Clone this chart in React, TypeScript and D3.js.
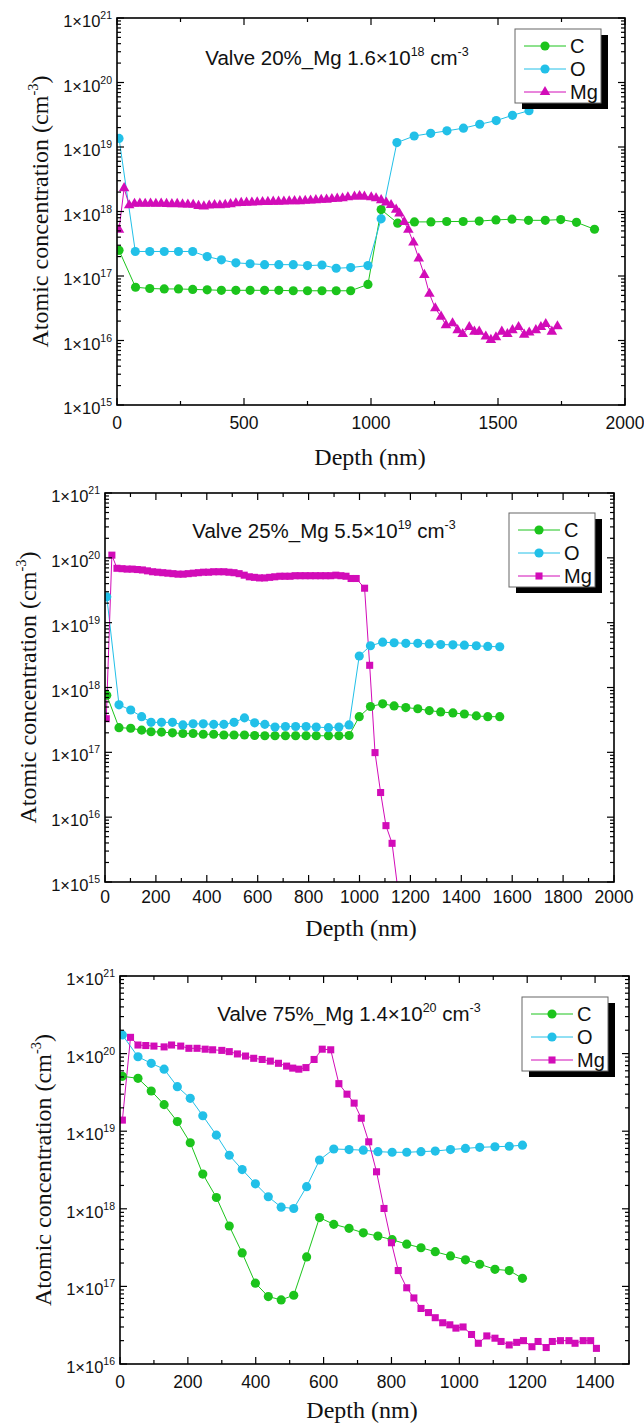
import React from 'react';
import * as d3 from 'd3';

type Pt = [number, number];

const SANS = "'Liberation Sans', Arial, Helvetica, sans-serif";
const SERIF = "'Liberation Serif', 'Times New Roman', Times, serif";

const colC = '#1cc41c';
const colO = '#22c0e8';
const colMg = '#d20cb8';

const speciesNames = ['C', 'O', 'Mg'];

// ---- Valve 20% ----
const c20: Pt[] = [[8, 2.5e17], [73, 6.7e16], [129, 6.4e16], [186, 6.3e16], [242, 6.3e16], [298, 6.2e16], [355, 6.1e16], [411, 6.0e16], [468, 6.0e16], [524, 6.0e16], [581, 6.0e16], [637, 6.0e16], [694, 5.9e16], [750, 5.9e16], [807, 5.9e16], [863, 5.9e16], [920, 5.9e16], [988, 7.4e16], [1040, 1.07e18], [1105, 6.6e17], [1171, 6.9e17], [1236, 6.9e17], [1298, 7.0e17], [1363, 7.0e17], [1426, 7.1e17], [1492, 7.4e17], [1555, 7.6e17], [1620, 7.3e17], [1686, 7.3e17], [1747, 7.5e17], [1809, 6.8e17], [1880, 5.3e17]];
const o20: Pt[] = [[8, 1.36e19], [72, 2.4e17], [129, 2.4e17], [186, 2.4e17], [242, 2.4e17], [298, 2.4e17], [355, 2.0e17], [411, 1.78e17], [468, 1.6e17], [524, 1.55e17], [581, 1.5e17], [637, 1.5e17], [694, 1.5e17], [750, 1.45e17], [807, 1.48e17], [863, 1.32e17], [920, 1.35e17], [988, 1.45e17], [1040, 7.7e17], [1102, 1.17e19], [1170, 1.48e19], [1235, 1.63e19], [1299, 1.78e19], [1364, 1.96e19], [1428, 2.25e19], [1493, 2.57e19], [1557, 3.1e19], [1622, 3.66e19]];
const mg20: Pt[] = [[8, 5.2e17], [28, 2.3e18], [48, 1.25e18], [69, 1.32e18], [90, 1.33e18], [111, 1.32e18], [132, 1.33e18], [153, 1.32e18], [174, 1.33e18], [195, 1.31e18], [216, 1.3e18], [237, 1.31e18], [258, 1.29e18], [279, 1.28e18], [300, 1.27e18], [321, 1.22e18], [342, 1.2e18], [363, 1.24e18], [384, 1.26e18], [405, 1.25e18], [426, 1.27e18], [447, 1.3e18], [468, 1.34e18], [489, 1.36e18], [510, 1.37e18], [531, 1.38e18], [552, 1.39e18], [573, 1.4e18], [594, 1.41e18], [615, 1.42e18], [636, 1.42e18], [657, 1.43e18], [678, 1.44e18], [699, 1.45e18], [720, 1.45e18], [741, 1.47e18], [762, 1.48e18], [783, 1.5e18], [804, 1.52e18], [825, 1.53e18], [846, 1.56e18], [867, 1.58e18], [888, 1.6e18], [909, 1.66e18], [935, 1.7e18], [955, 1.74e18], [974, 1.7e18], [1001, 1.66e18], [1020, 1.6e18], [1040, 1.5e18], [1060, 1.38e18], [1079, 1.26e18], [1099, 1.07e18], [1112, 9.3e17], [1131, 6.9e17], [1147, 5.2e17], [1167, 3.3e17], [1188, 1.87e17], [1210, 1.04e17], [1230, 5.3e16], [1253, 3.16e16], [1276, 2.34e16], [1295, 1.73e16], [1321, 1.85e16], [1341, 1.45e16], [1361, 1.26e16], [1387, 1.62e16], [1407, 1.37e16], [1426, 1.37e16], [1452, 1.15e16], [1472, 1.02e16], [1492, 1.12e16], [1515, 1.37e16], [1537, 1.26e16], [1557, 1.45e16], [1581, 1.62e16], [1603, 1.23e16], [1623, 1.33e16], [1649, 1.45e16], [1669, 1.62e16], [1688, 1.8e16], [1712, 1.37e16], [1734, 1.66e16]];

// ---- Valve 25% ----
const c25: Pt[] = [[7, 7.6e17], [55, 2.4e17], [101, 2.35e17], [144, 2.2e17], [181, 2.08e17], [222, 2.05e17], [265, 2.0e17], [306, 1.95e17], [346, 1.95e17], [386, 1.9e17], [427, 1.9e17], [467, 1.85e17], [507, 1.85e17], [548, 1.85e17], [588, 1.82e17], [628, 1.8e17], [668, 1.8e17], [709, 1.8e17], [749, 1.8e17], [790, 1.8e17], [830, 1.8e17], [878, 1.8e17], [919, 1.8e17], [959, 1.82e17], [999, 3.55e17], [1043, 5.1e17], [1091, 5.6e17], [1136, 5.2e17], [1182, 4.9e17], [1229, 4.7e17], [1274, 4.4e17], [1319, 4.2e17], [1367, 4.05e17], [1412, 3.9e17], [1459, 3.65e17], [1504, 3.55e17], [1551, 3.55e17]];
const o25: Pt[] = [[7, 2.5e19], [55, 5.4e17], [101, 4.5e17], [144, 3.55e17], [181, 2.9e17], [222, 2.9e17], [265, 2.9e17], [306, 2.65e17], [346, 2.75e17], [386, 2.75e17], [427, 2.7e17], [467, 2.7e17], [507, 2.9e17], [548, 3.4e17], [588, 2.85e17], [628, 2.7e17], [668, 2.45e17], [709, 2.5e17], [749, 2.5e17], [790, 2.5e17], [830, 2.45e17], [878, 2.4e17], [919, 2.45e17], [959, 2.65e17], [999, 3.06e18], [1043, 4.4e18], [1091, 5.0e18], [1136, 4.9e18], [1182, 4.8e18], [1229, 4.8e18], [1274, 4.7e18], [1319, 4.6e18], [1367, 4.55e18], [1412, 4.5e18], [1459, 4.4e18], [1504, 4.3e18], [1551, 4.25e18]];
const mg25: Pt[] = [[5, 3.3e17], [27, 1.1e20], [47, 6.9e19], [67, 6.8e19], [87, 6.7e19], [107, 6.7e19], [127, 6.6e19], [147, 6.5e19], [167, 6.3e19], [187, 6.1e19], [207, 6.0e19], [227, 5.9e19], [247, 5.8e19], [267, 5.7e19], [287, 5.6e19], [307, 5.6e19], [327, 5.7e19], [347, 5.8e19], [367, 5.9e19], [387, 6.0e19], [407, 6.0e19], [427, 6.1e19], [447, 6.1e19], [467, 6.1e19], [487, 6.0e19], [507, 5.9e19], [527, 5.7e19], [547, 5.4e19], [567, 5.1e19], [587, 5.0e19], [607, 4.9e19], [627, 4.9e19], [647, 5.0e19], [667, 5.1e19], [687, 5.2e19], [707, 5.2e19], [727, 5.2e19], [747, 5.3e19], [767, 5.3e19], [787, 5.3e19], [807, 5.3e19], [827, 5.3e19], [847, 5.3e19], [867, 5.3e19], [887, 5.3e19], [907, 5.4e19], [927, 5.3e19], [947, 5.2e19], [967, 4.8e19], [987, 4.8e19], [1020, 3.4e19], [1040, 2.2e18], [1061, 9.9e16], [1083, 2.4e16], [1104, 7.4e15], [1128, 3.95e15], [1152, 7e14]];

// ---- Valve 75% ----
const c75: Pt[] = [[7, 5.1e19], [53, 4.8e19], [92, 3.3e19], [130, 2.2e19], [169, 1.33e19], [207, 7.1e18], [244, 2.8e18], [284, 1.4e18], [322, 6.0e17], [360, 2.7e17], [399, 1.1e17], [437, 7.4e16], [475, 6.7e16], [512, 7.7e16], [550, 2.4e17], [588, 7.7e17], [630, 6.3e17], [675, 5.6e17], [717, 4.9e17], [760, 4.45e17], [802, 4.0e17], [845, 3.5e17], [887, 3.15e17], [929, 2.8e17], [974, 2.47e17], [1018, 2.2e17], [1060, 1.93e17], [1105, 1.66e17], [1147, 1.6e17], [1186, 1.27e17]];
const o75: Pt[] = [[7, 1.74e20], [53, 9.1e19], [92, 7.5e19], [130, 6.3e19], [169, 3.75e19], [207, 2.65e19], [244, 1.58e19], [284, 8.9e18], [322, 4.9e18], [360, 3.2e18], [399, 2.1e18], [437, 1.43e18], [475, 1.05e18], [512, 1.01e18], [550, 1.93e18], [588, 4.25e18], [630, 5.9e18], [675, 5.8e18], [717, 5.7e18], [760, 5.45e18], [802, 5.35e18], [845, 5.35e18], [887, 5.45e18], [929, 5.55e18], [974, 5.8e18], [1018, 6.0e18], [1060, 6.2e18], [1105, 6.3e18], [1147, 6.4e18], [1186, 6.6e18]];
const mg75: Pt[] = [[7, 1.39e19], [31, 1.62e20], [53, 1.29e20], [76, 1.27e20], [100, 1.25e20], [130, 1.22e20], [152, 1.29e20], [179, 1.25e20], [203, 1.17e20], [227, 1.17e20], [251, 1.14e20], [273, 1.12e20], [300, 1.1e20], [322, 1.06e20], [346, 9.9e19], [370, 9.3e19], [394, 8.7e19], [419, 8.4e19], [443, 8.0e19], [467, 7.5e19], [491, 6.9e19], [509, 6.5e19], [527, 6.3e19], [548, 6.6e19], [572, 8.4e19], [596, 1.14e20], [621, 1.12e20], [645, 4.1e19], [669, 3.0e19], [690, 2.3e19], [711, 1.47e19], [733, 7.3e18], [756, 3.0e18], [778, 1.01e18], [800, 3.65e17], [820, 1.6e17], [845, 9.6e16], [866, 7.1e16], [887, 5.2e16], [909, 4.6e16], [929, 3.95e16], [951, 3.4e16], [972, 3.2e16], [990, 2.9e16], [1011, 3.0e16], [1036, 2.4e16], [1056, 1.85e16], [1081, 2.3e16], [1105, 2.15e16], [1123, 1.95e16], [1147, 1.76e16], [1169, 1.9e16], [1189, 2.0e16], [1214, 1.67e16], [1232, 1.95e16], [1256, 1.63e16], [1274, 1.95e16], [1298, 2.0e16], [1323, 2.0e16], [1341, 1.85e16], [1365, 2.0e16], [1387, 2.0e16], [1404, 1.59e16]];

const panels = [
  {
    id: 'p20', left: 117, right: 625, top: 18, bottom: 405, xMax: 2000, xMajor: 500, xMinor: 250,
    yMin: 1e15, yMax: 1e21, pct: '20', mant: '1.6', exp: '18', titleX: 337, titleY: 65,
    legendX: 515, legendY: 29, mgSymbol: d3.symbolTriangle, mgSize: 48,
    yTitleX: 40, xTitleX: 370, xTitleY: 465, tickY: 429, c: c20, o: o20, mg: mg20,
  },
  {
    id: 'p25', left: 105, right: 614, top: 493, bottom: 882, xMax: 2000, xMajor: 200, xMinor: 100,
    yMin: 1e15, yMax: 1e21, pct: '25', mant: '5.5', exp: '19', titleX: 324, titleY: 538,
    legendX: 509, legendY: 513, mgSymbol: d3.symbolSquare, mgSize: 50,
    yTitleX: 28, xTitleX: 361, xTitleY: 936, tickY: 903, c: c25, o: o25, mg: mg25,
  },
  {
    id: 'p75', left: 120, right: 629, top: 976, bottom: 1364, xMax: 1500, xMajor: 200, xMinor: 100,
    yMin: 1e16, yMax: 1e21, pct: '75', mant: '1.4', exp: '20', titleX: 349, titleY: 1021,
    legendX: 522, legendY: 997, mgSymbol: d3.symbolSquare, mgSize: 50,
    yTitleX: 43, xTitleX: 362, xTitleY: 1418, tickY: 1388, c: c75, o: o75, mg: mg75,
  },
];

type PanelCfg = typeof panels[number];

function Panel({ p }: { p: PanelCfg }) {
  const x = d3.scaleLinear().domain([0, p.xMax]).range([p.left, p.right]);
  const y = d3.scaleLog().domain([p.yMin, p.yMax]).range([p.bottom, p.top]);
  const line = d3.line<Pt>().x(d => x(d[0])).y(d => y(d[1]));
  const circle = d3.symbol().type(d3.symbolCircle).size(66)();
  const mgPath = d3.symbol().type(p.mgSymbol).size(p.mgSize)();

  const series = [
    { name: 'C', data: p.c, color: colC, sym: circle },
    { name: 'O', data: p.o, color: colO, sym: circle },
    { name: 'Mg', data: p.mg, color: colMg, sym: mgPath },
  ];

  const xMajors = d3.range(0, p.xMax + 1, p.xMajor).filter(v => v <= p.xMax);
  const xMinors = d3.range(0, p.xMax + 1, p.xMinor).filter(v => v % p.xMajor !== 0 && v <= p.xMax);
  const e0 = Math.round(Math.log10(p.yMin));
  const e1 = Math.round(Math.log10(p.yMax));
  const decades = d3.range(e0, e1 + 1);
  const yMinors: number[] = [];
  decades.slice(0, -1).forEach(e => {
    for (let k = 2; k <= 9; k++) yMinors.push(k * Math.pow(10, e));
  });
  const clipId = `clip-${p.id}`;
  const tk = { stroke: '#000', strokeWidth: 1.2 };

  return (
    <g>
      <defs>
        <clipPath id={clipId}>
          <rect x={p.left} y={p.top} width={p.right - p.left} height={p.bottom - p.top} />
        </clipPath>
      </defs>

      <g clipPath={`url(#${clipId})`}>
        {series.map(s => (
          <path key={s.name + 'l'} d={line(s.data) || ''} fill="none" stroke={s.color} strokeWidth={1} />
        ))}
        {series.map(s => (
          <g key={s.name + 'm'} fill={s.color}>
            {s.data.map((d, i) => (
              <path key={i} d={s.sym || ''} transform={`translate(${x(d[0])},${y(d[1])})`} />
            ))}
          </g>
        ))}
      </g>

      {/* frame */}
      <rect x={p.left} y={p.top} width={p.right - p.left} height={p.bottom - p.top} fill="none" stroke="#000" strokeWidth={1.6} />

      {/* x ticks (bottom and top, inward) */}
      {xMajors.map(v => (
        <g key={'xM' + v}>
          <line x1={x(v)} x2={x(v)} y1={p.bottom} y2={p.bottom - 7} {...tk} />
          <line x1={x(v)} x2={x(v)} y1={p.top} y2={p.top + 7} {...tk} />
          <text x={x(v)} y={p.tickY} textAnchor="middle" fontFamily={SANS} fontSize={17.5} fill="#111">{v}</text>
        </g>
      ))}
      {xMinors.map(v => (
        <g key={'xm' + v}>
          <line x1={x(v)} x2={x(v)} y1={p.bottom} y2={p.bottom - 4} {...tk} />
          <line x1={x(v)} x2={x(v)} y1={p.top} y2={p.top + 4} {...tk} />
        </g>
      ))}

      {/* y ticks (left and right, inward) */}
      {decades.map(e => {
        const yy = y(Math.pow(10, e));
        return (
          <g key={'yM' + e}>
            <line x1={p.left} x2={p.left + 7} y1={yy} y2={yy} {...tk} />
            <line x1={p.right} x2={p.right - 7} y1={yy} y2={yy} {...tk} />
            <text x={p.left - 5} y={yy + 9} textAnchor="end" fontFamily={SANS} fontSize={16.5} fill="#111">
              1×10<tspan dy={-8} fontSize={10.5}>{e}</tspan>
            </text>
          </g>
        );
      })}
      {yMinors.map((v, i) => (
        <g key={'ym' + i}>
          <line x1={p.left} x2={p.left + 4} y1={y(v)} y2={y(v)} {...tk} />
          <line x1={p.right} x2={p.right - 4} y1={y(v)} y2={y(v)} {...tk} />
        </g>
      ))}

      {/* title */}
      <text x={p.titleX} y={p.titleY} textAnchor="middle" fontFamily={SANS} fontSize={20.5} fill="#111" style={{ whiteSpace: 'pre' }}>
        {`Valve ${p.pct}%_Mg ${p.mant}×10`}
        <tspan dy={-9} fontSize={12.5}>{p.exp}</tspan>
        <tspan dy={9}>{' cm'}</tspan>
        <tspan dy={-9} fontSize={12.5}>-3</tspan>
      </text>

      {/* axis titles */}
      <text
        transform={`translate(${p.yTitleX},${(p.top + p.bottom) / 2}) rotate(-90)`}
        textAnchor="middle" dy={8} fontFamily={SERIF} fontSize={24} fill="#111"
      >
        Atomic concentration (cm<tspan dy={-10} fontSize={14.5}>-3</tspan><tspan dy={10}>)</tspan>
      </text>
      <text x={p.xTitleX} y={p.xTitleY} textAnchor="middle" fontFamily={SERIF} fontSize={24} fill="#111">Depth (nm)</text>

      {/* legend */}
      <g transform={`translate(${p.legendX},${p.legendY})`}>
        <rect x={7} y={6} width={86} height={74} fill="#000" />
        <rect x={0} y={0} width={86} height={74} fill="#fff" stroke="#666" strokeWidth={1} />
        {series.map((s, i) => (
          <g key={'lg' + s.name} transform={`translate(0,${17 + i * 23})`}>
            <line x1={9} x2={51} y1={0} y2={0} stroke={s.color} strokeWidth={1} />
            <path d={s.sym || ''} transform="translate(30,0)" fill={s.color} />
            <text x={55} y={7} fontFamily={SANS} fontSize={20} fill="#111">{speciesNames[i]}</text>
          </g>
        ))}
      </g>
    </g>
  );
}

export default function App() {
  return (
    <svg
      width={644}
      height={1423}
      viewBox="0 0 644 1423"
      style={{ position: 'absolute', left: 0, top: 0, background: '#fff' }}
    >
      <rect width={644} height={1423} fill="#fff" />
      {panels.map(p => <Panel key={p.id} p={p} />)}
    </svg>
  );
}
